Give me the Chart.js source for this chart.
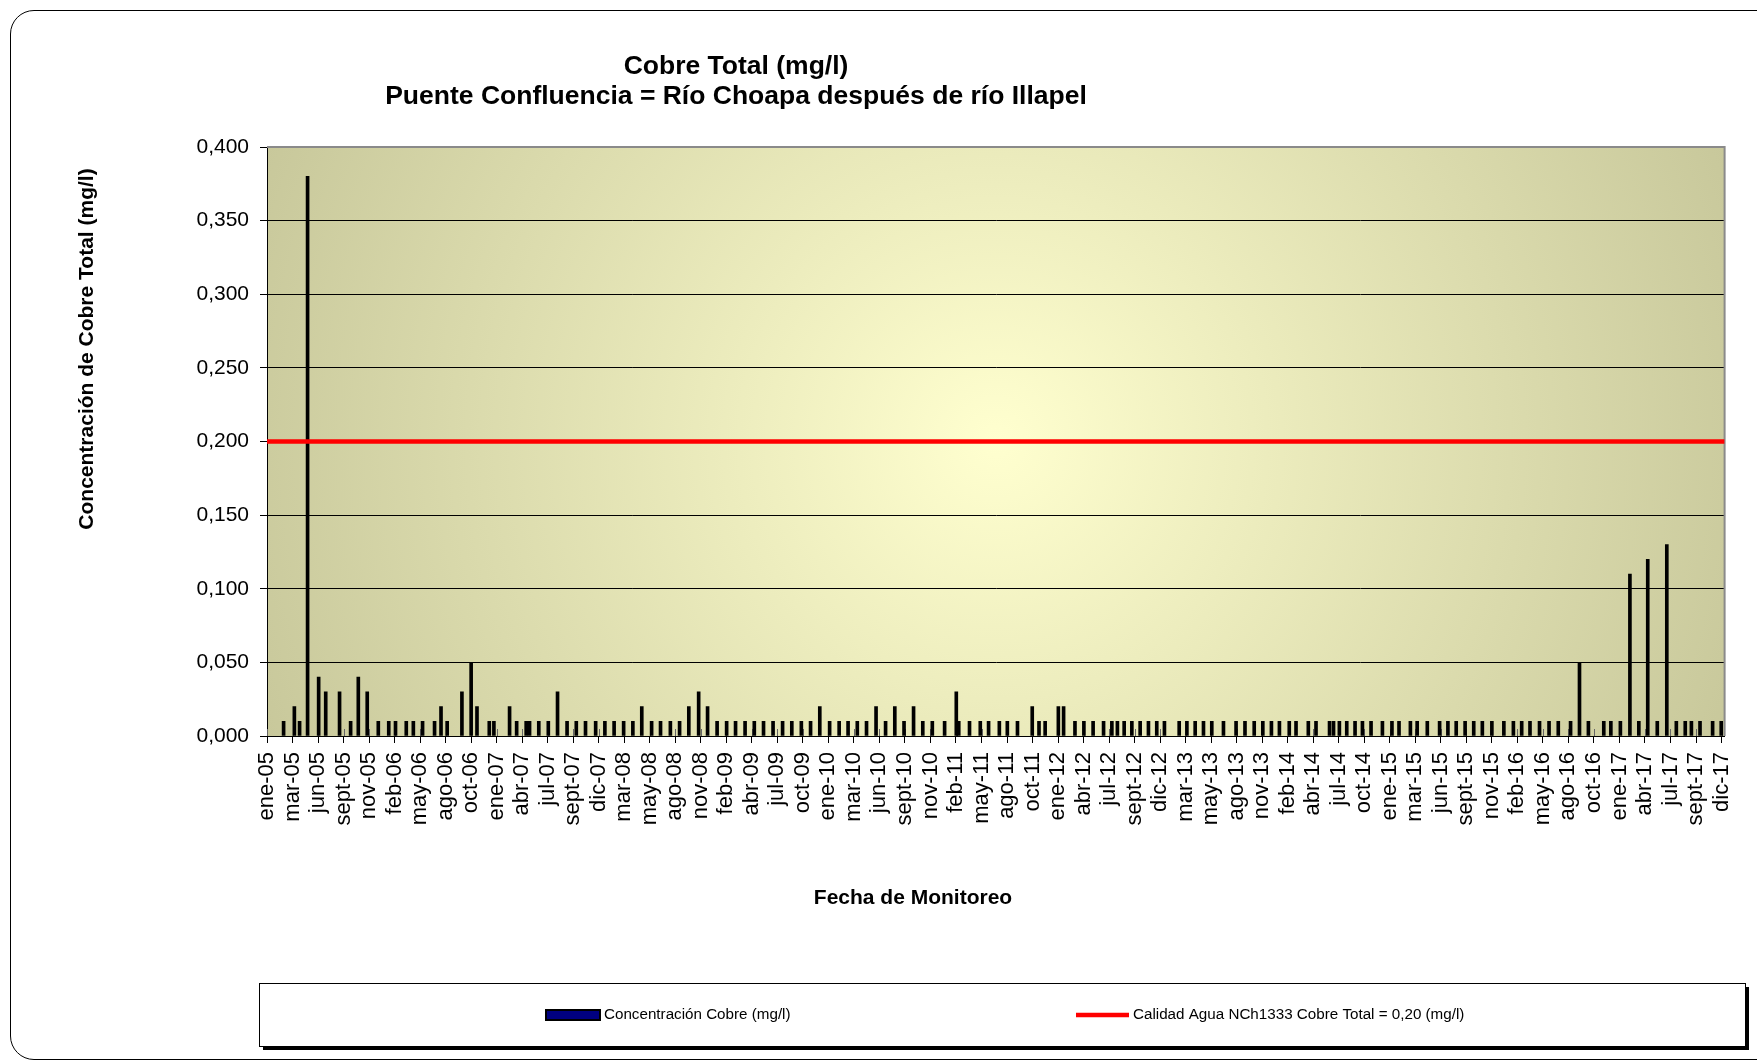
<!DOCTYPE html>
<html lang="es">
<head>
<meta charset="utf-8">
<title>Cobre Total (mg/l) - Puente Confluencia</title>
<script src="https://cdn.jsdelivr.net/npm/chart.js@4.4.1/dist/chart.umd.min.js"></script>
<style>
  html, body { margin: 0; padding: 0; background: #fff; overflow: hidden; }
  #frame { position: absolute; left: 10px; top: 10px; width: 1800px; height: 1048px; border: 1px solid #000; border-radius: 24px; }
  #myChart { position: absolute; left: 0; top: 0; }
</style>
</head>
<body>
<div id="frame"></div>
<canvas id="myChart" width="1757" height="1063"></canvas>
<script>

const titleLines = ['Cobre Total (mg/l)', 'Puente Confluencia = Río Choapa después de río Illapel'];
const xTitle = 'Fecha de Monitoreo';
const yTitle = 'Concentración de Cobre Total (mg/l)';
const seriesLabels = ['Concentración Cobre (mg/l)', 'Calidad Agua NCh1333 Cobre Total = 0,20 (mg/l)'];

// fechas de muestreo (una linea por año)
const sampleDates = [
  '2005-02-24','2005-03-31','2005-04-17','2005-05-13','2005-06-18','2005-07-11','2005-08-25','2005-09-30','2005-10-25','2005-11-23','2005-12-29',
  '2006-02-01','2006-02-23','2006-03-30','2006-04-22','2006-05-22','2006-06-30','2006-07-21','2006-08-10','2006-09-27','2006-10-27','2006-11-15','2006-12-25',
  '2007-01-09','2007-03-01','2007-03-24','2007-04-24','2007-05-05','2007-06-04','2007-07-05','2007-08-04','2007-09-04','2007-10-04','2007-11-03','2007-12-06',
  '2008-01-05','2008-02-04','2008-03-06','2008-04-05','2008-05-04','2008-06-05','2008-07-04','2008-08-05','2008-09-04','2008-10-04','2008-11-05','2008-12-04',
  '2009-01-04','2009-02-04','2009-03-05','2009-04-05','2009-05-05','2009-06-04','2009-07-05','2009-08-05','2009-09-04','2009-10-05','2009-11-04','2009-12-04',
  '2010-01-05','2010-02-05','2010-03-06','2010-04-05','2010-05-05','2010-06-05','2010-07-06','2010-08-05','2010-09-04','2010-10-05','2010-11-04','2010-12-05',
  '2011-01-14','2011-02-21','2011-03-01','2011-04-05','2011-05-10','2011-06-06','2011-07-11','2011-08-06','2011-09-08','2011-10-26','2011-11-17','2011-12-07',
  '2012-01-19','2012-02-05','2012-03-13','2012-04-11','2012-05-11','2012-06-14','2012-07-11','2012-07-29','2012-08-20','2012-09-14','2012-10-11','2012-11-07','2012-12-04','2012-12-29',
  '2013-02-15','2013-03-12','2013-04-08','2013-05-05','2013-06-01','2013-07-09','2013-08-19','2013-09-17','2013-10-17','2013-11-14','2013-12-12',
  '2014-01-07','2014-02-08','2014-03-02','2014-04-11','2014-05-06','2014-06-19','2014-07-02','2014-07-21','2014-08-14','2014-09-10','2014-10-04','2014-11-01','2014-12-08',
  '2015-01-08','2015-01-31','2015-03-09','2015-03-31','2015-05-03','2015-06-12','2015-07-09','2015-08-05','2015-09-03','2015-10-01','2015-10-29','2015-11-29',
  '2016-01-07','2016-02-07','2016-03-05','2016-04-01','2016-05-02','2016-06-02','2016-07-02','2016-08-11','2016-09-09','2016-10-08','2016-11-27','2016-12-20',
  '2017-01-20','2017-02-20','2017-03-21','2017-04-19','2017-05-20','2017-06-20','2017-07-21','2017-08-19','2017-09-08','2017-10-06','2017-11-16','2017-12-14'
];

// mg/l, mismo orden que sampleDates
const copperValues = [
  0.01,0.02,0.01,0.38,0.04,0.03,0.03,0.01,0.04,0.03,0.01,
  0.01,0.01,0.01,0.01,0.01,0.01,0.02,0.01,0.03,0.05,0.02,0.01,
  0.01,0.02,0.01,0.01,0.01,0.01,0.01,0.03,0.01,0.01,0.01,0.01,
  0.01,0.01,0.01,0.01,0.02,0.01,0.01,0.01,0.01,0.02,0.03,0.02,
  0.01,0.01,0.01,0.01,0.01,0.01,0.01,0.01,0.01,0.01,0.01,0.02,
  0.01,0.01,0.01,0.01,0.01,0.02,0.01,0.02,0.01,0.02,0.01,0.01,
  0.01,0.03,0.01,0.01,0.01,0.01,0.01,0.01,0.01,0.02,0.01,0.01,
  0.02,0.02,0.01,0.01,0.01,0.01,0.01,0.01,0.01,0.01,0.01,0.01,0.01,0.01,
  0.01,0.01,0.01,0.01,0.01,0.01,0.01,0.01,0.01,0.01,0.01,
  0.01,0.01,0.01,0.01,0.01,0.01,0.01,0.01,0.01,0.01,0.01,0.01,0.01,
  0.01,0.01,0.01,0.01,0.01,0.01,0.01,0.01,0.01,0.01,0.01,0.01,
  0.01,0.01,0.01,0.01,0.01,0.01,0.01,0.01,0.05,0.01,0.01,0.01,
  0.01,0.11,0.01,0.12,0.01,0.13,0.01,0.01,0.01,0.01,0.01,0.01
];

const limitValue = 0.20;

const tickLabels = [
  'ene-05','mar-05','jun-05','sept-05','nov-05','feb-06','may-06','ago-06','oct-06',
  'ene-07','abr-07','jul-07','sept-07','dic-07','mar-08','may-08','ago-08','nov-08',
  'feb-09','abr-09','jul-09','oct-09','ene-10','mar-10','jun-10','sept-10','nov-10',
  'feb-11','may-11','ago-11','oct-11','ene-12','abr-12','jul-12','sept-12','dic-12',
  'mar-13','may-13','ago-13','nov-13','feb-14','abr-14','jul-14','oct-14','ene-15',
  'mar-15','jun-15','sept-15','nov-15','feb-16','may-16','ago-16','oct-16','ene-17',
  'abr-17','jul-17','sept-17','dic-17'
];

const FONT = '"Liberation Sans", Arial, sans-serif';
const ORIGIN = Date.parse('2005-01-01');
const TICK_STEP_DAYS = 83;   // eje de fechas de Excel: una etiqueta cada 83 dias
const X_MAX_DAYS = 4741;

const toDays = (iso) => Math.round((Date.parse(iso) - ORIGIN) / 86400000);

const barData = sampleDates.map((d, i) => ({ x: toDays(d), y: copperValues[i] }));

// fondo degradado, titulos y leyenda al estilo Excel
const excelLook = {
  id: 'excelLook',
  beforeDraw(chart) {
    const { ctx, chartArea: a } = chart;
    const cx = (a.left + a.right) / 2, cy = (a.top + a.bottom) / 2;
    const g = ctx.createRadialGradient(cx, cy, 0, cx, cy, Math.hypot(a.width, a.height) / 2);
    g.addColorStop(0, '#ffffcf');
    g.addColorStop(1, '#c8c89b');
    ctx.save();
    ctx.fillStyle = g;
    ctx.fillRect(a.left, a.top, a.width, a.height);
    ctx.restore();
  },
  beforeDatasetsDraw(chart) {
    const { ctx, chartArea: a, scales } = chart;
    ctx.save();
    ctx.strokeStyle = '#666';
    ctx.lineWidth = 1;
    ctx.beginPath();
    scales.x.ticks.forEach(t => {
      const px = Math.round(scales.x.getPixelForValue(t.value)) + 0.5;
      ctx.moveTo(px, a.bottom - 7);
      ctx.lineTo(px, a.bottom);
    });
    ctx.stroke();
    ctx.strokeStyle = '#8a8a8a';
    ctx.lineWidth = 2;
    ctx.beginPath();
    ctx.moveTo(a.left, a.top);
    ctx.lineTo(a.right, a.top);
    ctx.lineTo(a.right, a.bottom);
    ctx.stroke();
    ctx.restore();
  },
  afterDraw(chart) {
    const ctx = chart.ctx;
    ctx.save();
    ctx.fillStyle = '#000';
    ctx.textAlign = 'center';
    ctx.textBaseline = 'middle';
    ctx.font = `bold 26.5px ${FONT}`;
    ctx.fillText(titleLines[0], 736, 67);
    ctx.fillText(titleLines[1], 736, 97);

    ctx.font = `bold 21px ${FONT}`;
    ctx.fillText(xTitle, 913, 898);
    ctx.translate(87, 349);
    ctx.rotate(-Math.PI / 2);
    ctx.fillText(yTitle, 0, 0);
    ctx.restore();

    // leyenda
    const box = { l: 259, t: 983, w: 1486, h: 63 };
    ctx.save();
    ctx.fillStyle = '#000';
    ctx.fillRect(box.l + 4, box.t + 4, box.w, box.h);
    ctx.fillStyle = '#fff';
    ctx.fillRect(box.l, box.t, box.w, box.h);
    ctx.strokeStyle = '#000';
    ctx.lineWidth = 1;
    ctx.strokeRect(box.l + 0.5, box.t + 0.5, box.w, box.h);

    const cy = box.t + 32;
    const ds = chart.data.datasets;
    ctx.font = `15.2px ${FONT}`;
    ctx.textBaseline = 'middle';
    ctx.textAlign = 'left';

    let x = 546;
    ctx.fillStyle = ds[0].legendColor;
    ctx.fillRect(x, cy - 5, 54, 10);
    ctx.lineWidth = 2;
    ctx.strokeRect(x, cy - 5, 54, 10);
    ctx.fillStyle = '#000';
    ctx.fillText(ds[0].label, x + 58, cy);

    x = 1076;
    ctx.strokeStyle = ds[1].borderColor;
    ctx.lineWidth = 4.5;
    ctx.beginPath();
    ctx.moveTo(x, cy);
    ctx.lineTo(x + 53, cy);
    ctx.stroke();
    ctx.fillText(ds[1].label, x + 57, cy);
    ctx.restore();
  }
};

const ctxt = document.getElementById('myChart').getContext('2d');

const myChart = new Chart(ctxt, {
  type: 'bar',
  data: {
    datasets: [{
      label: seriesLabels[0],
      data: barData,
      backgroundColor: '#000',
      legendColor: '#000080',
      barThickness: 3,
      order: 1
    }, {
      type: 'line',
      label: seriesLabels[1],
      data: [{ x: 0, y: limitValue }, { x: X_MAX_DAYS, y: limitValue }],
      borderColor: '#ff0000',
      borderWidth: 4.5,
      pointRadius: 0,
      order: 0
    }]
  },
  options: {
    responsive: false,
    animation: false,
    layout: { padding: { top: 147, right: 32, left: 0, bottom: 0 } },
    plugins: {
      legend: { display: false },
      title: { display: false },
      tooltip: { enabled: false }
    },
    scales: {
      x: {
        type: 'linear',
        min: 0,
        max: X_MAX_DAYS,
        offset: false,
        afterBuildTicks: (axis) => {
          axis.ticks = tickLabels.map((_, i) => ({ value: i * TICK_STEP_DAYS }));
        },
        afterFit: (axis) => { axis.height = 327; },
        grid: { offset: false, drawOnChartArea: false, tickLength: 7, color: '#000' },
        border: { color: '#000', width: 1 },
        ticks: {
          autoSkip: false,
          minRotation: 90,
          maxRotation: 90,
          padding: 9,
          color: '#000',
          font: { family: FONT, size: 22 },
          callback: (v, i) => tickLabels[i]
        }
      },
      y: {
        min: 0,
        max: 0.4,
        afterFit: (axis) => { axis.width = 267; },
        grid: { color: '#000', lineWidth: 1, tickLength: 7 },
        border: { color: '#000', width: 1 },
        ticks: {
          stepSize: 0.05,
          padding: 11,
          color: '#000',
          font: { family: FONT, size: 21 },
          callback: (v) => v.toFixed(3).replace('.', ',')
        }
      }
    }
  },
  plugins: [excelLook]
});

</script>
</body>
</html>
